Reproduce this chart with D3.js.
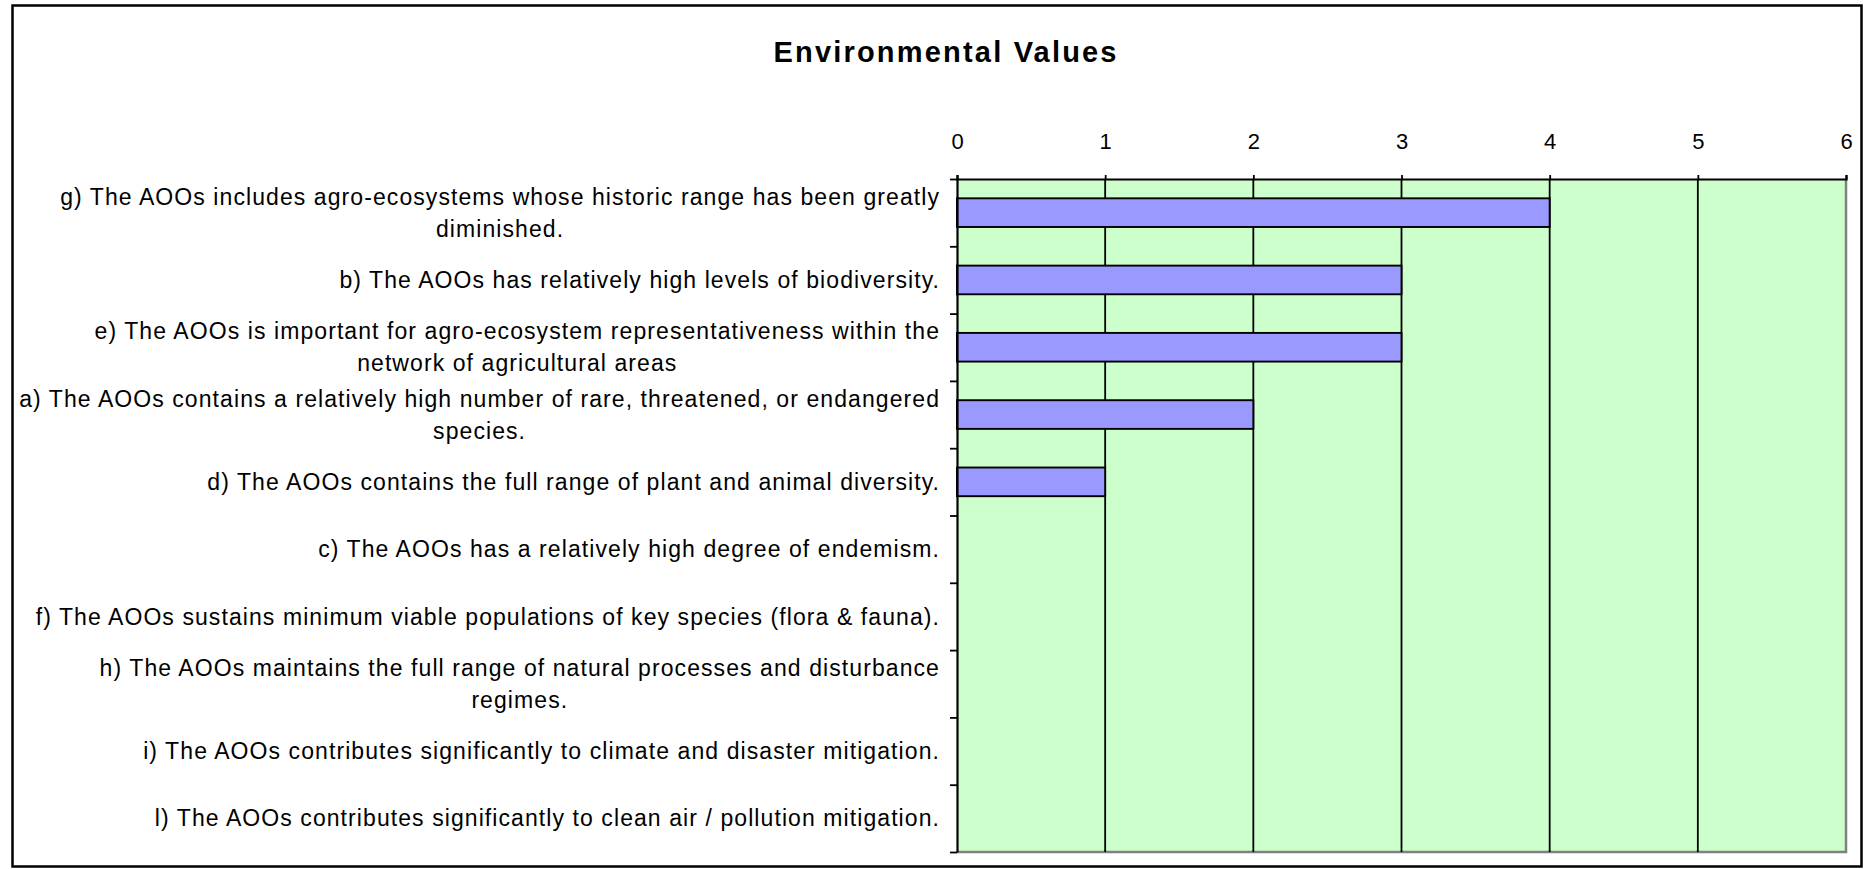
<!DOCTYPE html>
<meta charset="utf-8">
<script src="https://d3js.org/d3.v7.min.js"></script>
<style>
  body { margin: 0; background: #fff; }
  text { font-family: "Liberation Sans", Arial, sans-serif; fill: #000; }
</style>
<svg id="chart" width="1865" height="869"></svg>
<script>

// Data (top to bottom, as drawn)
var categories = [
  "g) The AOOs includes agro-ecosystems whose historic range has been greatly\ndiminished.",
  "b) The AOOs has relatively high levels of biodiversity.",
  "e) The AOOs is important for agro-ecosystem representativeness within the\nnetwork of agricultural areas",
  "a) The AOOs contains a relatively high number of rare, threatened, or endangered\nspecies.",
  "d) The AOOs contains the full range of plant and animal diversity.",
  "c) The AOOs has a relatively high degree of endemism.",
  "f) The AOOs sustains minimum viable populations of key species (flora & fauna).",
  "h) The AOOs maintains the full range of natural processes and disturbance\nregimes.",
  "i) The AOOs contributes significantly to climate and disaster mitigation.",
  "l) The AOOs contributes significantly to clean air / pollution mitigation."
];
var values = [4, 3, 3, 2, 1, 0, 0, 0, 0, 0];
var xTicks = [0, 1, 2, 3, 4, 5, 6];
var title = "Environmental Values";

var svg = d3.select("#chart");

// plot area
var plotLeft = 957, plotRight = 1846, plotTop = 179, plotBottom = 852;

// outer frame
svg.append("rect")
  .attr("x", 12.5).attr("y", 5.5)
  .attr("width", 1849).attr("height", 861)
  .attr("fill", "none")
  .attr("stroke", "#000")
  .attr("stroke-width", 2.5);

// title
svg.append("text")
  .attr("x", 945).attr("y", 62)
  .attr("text-anchor", "middle")
  .style("font-size", "29px")
  .style("font-weight", "bold")
  .attr("textLength", 343)
  .attr("lengthAdjust", "spacing")
  .text(title);

var x = d3.scaleLinear()
  .domain([0, 6])
  .range([plotLeft, plotRight]);

var y = d3.scaleBand()
  .domain(d3.range(categories.length))
  .range([plotTop, plotBottom])
  .paddingInner(0.574)
  .paddingOuter(0.287);

// index scale for the category tick marks between bands
var yIdx = d3.scaleLinear()
  .domain([0, categories.length])
  .range([plotTop, plotBottom]);

// plot background
svg.append("rect")
  .attr("x", plotLeft).attr("y", plotTop)
  .attr("width", plotRight - plotLeft).attr("height", plotBottom - plotTop)
  .attr("fill", "#CCFFCC");

// right and bottom plot border (gray)
svg.append("path")
  .attr("d", "M" + plotRight + "," + plotTop + "V" + plotBottom + "H" + plotLeft)
  .attr("fill", "none")
  .attr("stroke", "#808080")
  .attr("stroke-width", 2.5);

// vertical gridlines
svg.append("g")
  .selectAll("line")
  .data(xTicks.slice(1, -1))
  .enter()
  .append("line")
    .attr("x1", function(d) { return x(d); })
    .attr("x2", function(d) { return x(d); })
    .attr("y1", plotTop).attr("y2", plotBottom)
    .attr("stroke", "#000")
    .attr("stroke-width", 1.8);

// bars (zero values draw nothing)
var barData = values.map(function(v, i) { return { i: i, v: v }; })
  .filter(function(d) { return d.v > 0; });

svg.append("g")
  .selectAll("rect")
  .data(barData)
  .enter()
  .append("rect")
    .attr("x", x(0))
    .attr("y", function(d) { return y(d.i); })
    .attr("height", y.bandwidth())
    .attr("width", function(d) { return x(d.v) - x(0); })
    .attr("fill", "#9999FF")
    .attr("stroke", "#000")
    .attr("stroke-width", 1.9);

// top axis
var xAxis = svg.append("g")
  .attr("transform", "translate(0," + plotTop + ")")
  .call(d3.axisTop(x).tickValues(xTicks).tickFormat(d3.format("d")).tickSize(4).tickSizeOuter(4).tickPadding(26));
xAxis.select(".domain").attr("stroke-width", 2.2);
xAxis.selectAll(".tick line").attr("stroke-width", 1.8);
xAxis.selectAll(".tick text")
  .style("font-size", "22px")
  .style("font-family", "'Liberation Sans', Arial, sans-serif")
  .attr("fill", "#000");

// left axis (tick marks between categories)
var yAxis = svg.append("g")
  .attr("transform", "translate(" + plotLeft + ",0)")
  .call(d3.axisLeft(yIdx).tickValues(d3.range(categories.length + 1)).tickFormat("").tickSize(7).tickSizeOuter(0));
yAxis.select(".domain").attr("stroke-width", 2.2);
yAxis.selectAll(".tick line").attr("stroke-width", 1.8);

// category labels: block right-aligned, lines centered within block
var labelRight = 940;
var lineGap = 32;
var labels = svg.append("g");
categories.forEach(function(c, i) {
  var lines = c.split("\n");
  var cy = yIdx(i + 0.5);
  var g = labels.append("g");
  var texts = g.selectAll("text")
    .data(lines)
    .enter()
    .append("text")
      .style("font-size", "23px")
      .style("letter-spacing", "1.08px")
      .attr("text-anchor", "middle")
      .attr("dy", "0.35em")
      .attr("y", function(d, j) { return cy + (j - (lines.length - 1) / 2) * lineGap; })
      .text(function(d) { return d; });
  var maxW = 0;
  texts.each(function() { maxW = Math.max(maxW, this.getComputedTextLength()); });
  texts.attr("x", labelRight - maxW / 2);
});

</script>
